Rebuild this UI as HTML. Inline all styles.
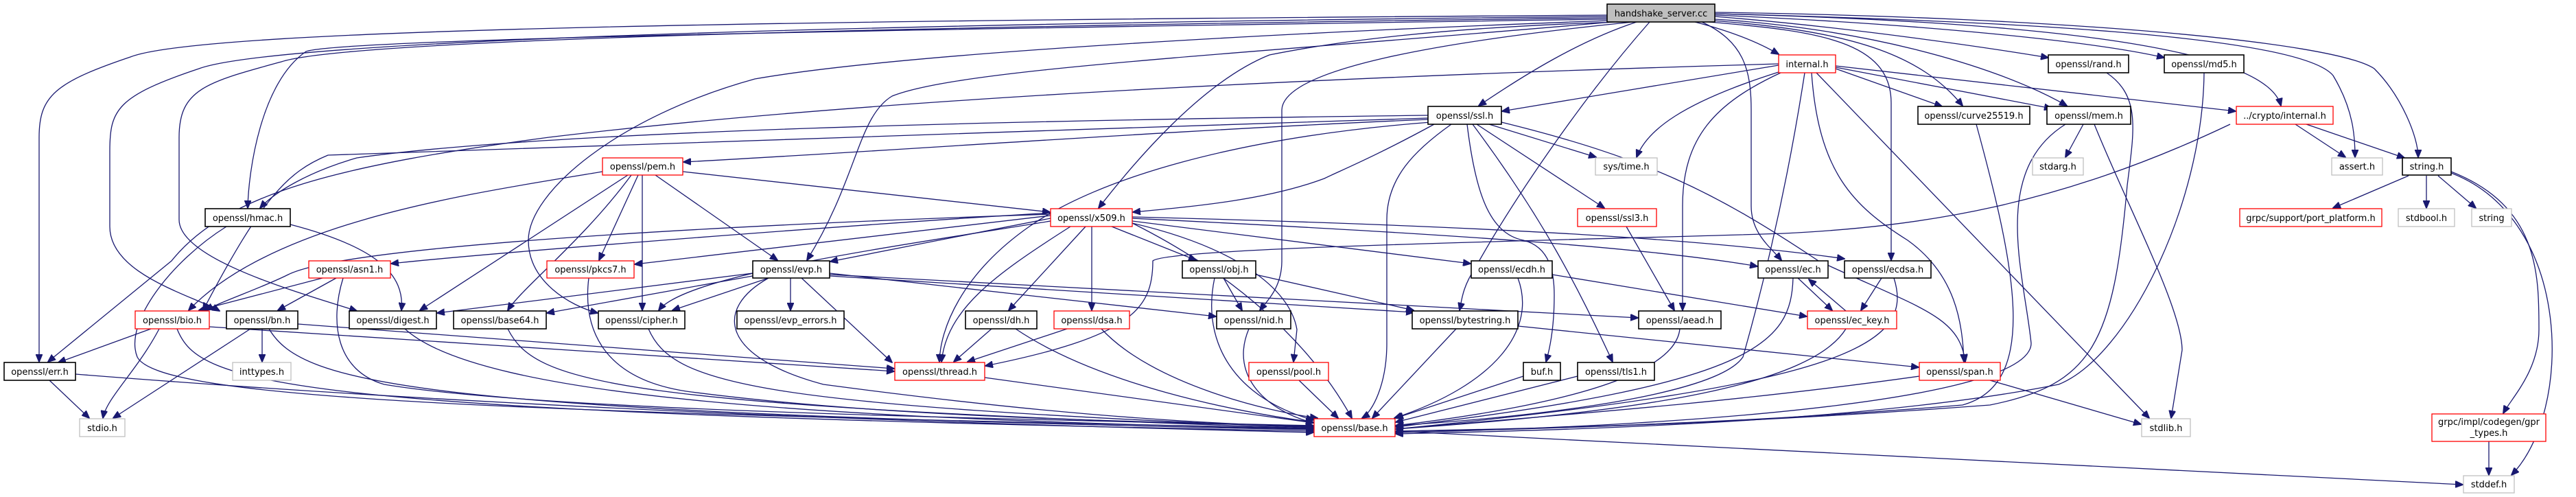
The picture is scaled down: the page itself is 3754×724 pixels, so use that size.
<!DOCTYPE html>
<html><head><meta charset="utf-8"><style>
html,body{margin:0;padding:0;background:#fff;}
svg{display:block;}
text{font-family:"DejaVu Sans","Liberation Sans",sans-serif;font-size:13px;fill:#000;}
.e{fill:none;stroke:#191970;stroke-width:1.3;marker-end:url(#a);}
.k{fill:#fff;stroke:#000;stroke-width:1.6;}
.r{fill:#fff;stroke:#ff0000;stroke-width:1.3;}
.g{fill:#fff;stroke:#bfbfbf;stroke-width:1.3;}
</style></head><body>
<svg width="3754" height="724" viewBox="0 0 3754 724" xmlns="http://www.w3.org/2000/svg">
<defs><marker id="a" markerWidth="12" markerHeight="10" refX="11" refY="5" orient="auto" markerUnits="userSpaceOnUse"><path d="M0,0 L12,5 L0,10 z" fill="#191970" stroke="#191970"/></marker></defs>
<g>
<!-- handshake edges -->
<path class="e" d="M2342,22 C1200,30 300,40 190,83 C80,120 57,140 57,200 L57,527"/>
<path class="e" d="M2342,24 C1200,35 400,60 290,100 C170,140 160,160 160,220 L160,330 C160,400 280,430 320,453"/>
<path class="e" d="M2342,26 C1200,40 500,60 410,90 C300,120 261,130 261,200 L261,320 C261,380 450,430 520,453"/>
<path class="e" d="M2342,28 C1500,40 500,55 446,75 C380,120 362,250 361,303"/>
<path class="e" d="M2345,30 C1800,50 1300,80 1100,115 C900,170 770,280 770,350 C770,410 830,445 871,456"/>
<path class="e" d="M2350,32 C1800,80 1400,100 1300,140 C1250,170 1250,260 1176,379"/>
<path class="e" d="M2360,32 C2100,40 1950,60 1850,80 C1750,120 1650,240 1601,303"/>
<path class="e" d="M2380,32 C2100,60 1870,100 1868,160 L1868,380 C1868,420 1845,440 1836,452"/>
<path class="e" d="M2385,32 C2300,60 2220,110 2155,154"/>
<path class="e" d="M2404,32 C2300,150 2200,300 2150,390 C2130,420 2130,440 2127,452"/>
<path class="e" d="M2470,32 C2520,45 2560,60 2592,79"/>
<path class="e" d="M2480,32 C2540,60 2552,100 2552,160 L2552,300 C2552,340 2580,360 2596,379"/>
<path class="e" d="M2490,32 C2650,45 2756,60 2756,150 L2756,379"/>
<path class="e" d="M2495,30 C2700,45 2800,80 2860,154"/>
<path class="e" d="M2499,28 C2700,40 2900,90 3012,154"/>
<path class="e" d="M2499,24 C2700,40 2900,70 2985,84"/>
<path class="e" d="M2499,22 C2800,35 3050,60 3154,84"/>
<path class="e" d="M2499,20 C2900,30 3300,60 3324,154"/>
<path class="e" d="M2499,20 C2900,30 3350,50 3400,110 C3430,160 3432,200 3432,229"/>
<path class="e" d="M2499,18 C3000,25 3400,60 3460,100 C3500,140 3524,200 3524,229"/>
<!-- ssl -->
<path class="e" d="M2081,168 C1500,175 800,190 520,230 C450,250 400,280 379,303"/>
<path class="e" d="M2081,172 C1500,190 700,220 478,226 C420,250 383,286 296,452"/>
<path class="e" d="M2081,174 C1700,190 1300,220 996,236"/>
<path class="e" d="M2090,181 C2000,230 1950,250 1930,260 C1850,290 1750,300 1651,309"/>
<path class="e" d="M2085,178 C1800,200 1600,260 1500,330 C1400,400 1370,480 1369,527"/>
<path class="e" d="M2115,181 C2060,220 2021,260 2021,320 L2021,500 C2021,560 2000,600 1985,609"/>
<path class="e" d="M2170,181 L2326,229"/>
<path class="e" d="M2152,181 L2338,303"/>
<path class="e" d="M2138,181 C2150,280 2170,340 2220,350 C2260,360 2265,400 2265,430 C2265,480 2258,510 2253,527"/>
<path class="e" d="M2146,181 C2250,320 2300,420 2350,527"/>
<path class="e" d="M2188,178 C2400,230 2500,280 2650,380 C2800,450 2855,460 2864,527"/>
<!-- pem -->
<path class="e" d="M995,250 L1530,309"/>
<path class="e" d="M878,250 C700,280 400,320 275,452"/>
<path class="e" d="M915,255 L612,452"/>
<path class="e" d="M920,255 C850,350 760,420 740,452"/>
<path class="e" d="M930,255 L873,379"/>
<path class="e" d="M936,255 L936,452"/>
<path class="e" d="M955,255 L1133,379"/>
<!-- hmac -->
<path class="e" d="M423,327 C550,360 590,400 585,452"/>
<path class="e" d="M330,330 C250,380 180,470 200,520 C230,580 700,600 1914,624"/>
<!-- asn1/pkcs7 -->
<path class="e" d="M470,405 L290,452"/>
<path class="e" d="M490,405 L405,452"/>
<path class="e" d="M500,405 C480,470 490,540 560,560 C800,600 1500,610 1914,621"/>
<path class="e" d="M858,405 C850,470 870,550 1000,570 C1300,610 1700,615 1914,620"/>
<!-- evp -->
<path class="e" d="M1097,398 L637,456"/>
<path class="e" d="M1097,402 L797,456"/>
<path class="e" d="M1120,405 L980,452"/>
<path class="e" d="M1152,405 L1152,452"/>
<path class="e" d="M1168,405 L1300,528"/>
<path class="e" d="M1209,398 L1772,461"/>
<path class="e" d="M1120,405 C1040,450 1050,520 1200,560 C1500,600 1700,615 1914,622"/>
<path class="e" d="M1209,400 L2387,463"/>
<path class="e" d="M1209,402 L2060,455"/>
<!-- x509 -->
<path class="e" d="M1531,310 C1200,330 700,370 570,384"/>
<path class="e" d="M1531,314 L925,385"/>
<path class="e" d="M1531,318 L1210,381"/>
<path class="e" d="M1531,312 C1000,330 500,360 420,400 C380,420 320,440 300,452"/>
<path class="e" d="M1531,322 C1300,360 1000,400 960,452"/>
<path class="e" d="M1560,330 C1450,400 1380,450 1372,527"/>
<path class="e" d="M1582,330 L1470,452"/>
<path class="e" d="M1591,330 L1591,452"/>
<path class="e" d="M1620,330 L1743,379"/>
<path class="e" d="M1650,325 C1800,360 1880,420 1890,480 L1885,527"/>
<path class="e" d="M1650,325 C1800,400 1910,500 1970,609"/>
<path class="e" d="M1650,322 L2143,384"/>
<path class="e" d="M1650,318 C2100,340 2400,360 2561,388"/>
<path class="e" d="M1650,316 C2200,330 2500,350 2688,377"/>
<!-- lower -->
<path class="e" d="M1783,405 L1810,452"/>
<path class="e" d="M1830,400 L2060,452"/>
<path class="e" d="M1770,405 C1750,500 1800,580 1914,612"/>
<path class="e" d="M2262,400 L2633,461"/>
<path class="e" d="M2212,405 C2240,480 2180,560 2032,609"/>
<path class="e" d="M1445,479 L1390,527"/>
<path class="e" d="M1480,479 C1600,560 1800,600 1914,615"/>
<path class="e" d="M1555,479 L1410,527"/>
<path class="e" d="M1605,479 C1680,560 1850,600 1920,609"/>
<path class="e" d="M1820,479 C1790,550 1850,600 1914,616"/>
<path class="e" d="M2122,479 L2000,609"/>
<path class="e" d="M2212,475 L2796,535"/>
<path class="e" d="M1435,550 L1914,616"/>
<path class="e" d="M1893,554 L1950,609"/>
<path class="e" d="M2220,548 L2034,609"/>
<path class="e" d="M2299,548 L2034,615"/>
<path class="e" d="M2448,479 C2440,560 2200,600 2034,620"/>
<path class="e" d="M2370,330 L2440,452"/>
<path class="e" d="M2620,405 L2670,452"/>
<path class="e" d="M2690,453 L2636,407"/>
<path class="e" d="M2613,405 C2610,500 2560,560 2034,622"/>
<path class="e" d="M2742,405 L2712,452"/>
<path class="e" d="M2760,405 C2790,500 2700,560 2034,625"/>
<path class="e" d="M2690,479 C2640,560 2400,600 2034,625"/>
<path class="e" d="M2797,548 C2500,590 2200,610 2034,625"/>
<path class="e" d="M2900,554 L3120,618"/>
<path class="e" d="M2880,181 C2940,400 2970,560 2860,590 C2500,620 2200,625 2034,628"/>
<path class="e" d="M3036,181 L3010,229"/>
<path class="e" d="M3052,181 C3100,300 3180,450 3180,510 L3164,609"/>
<path class="e" d="M3010,181 C2900,250 2950,400 2960,500 C2960,580 2500,620 2034,630"/>
<path class="e" d="M3070,106 C3120,140 3110,190 3100,270 C3080,500 3050,560 2900,590 C2500,620 2200,625 2034,630"/>
<path class="e" d="M3212,106 C3210,300 3100,520 3000,560 C2700,620 2200,628 2034,632"/>
<!-- internal -->
<path class="e" d="M2592,95 L2189,162"/>
<path class="e" d="M2675,100 L2830,155"/>
<path class="e" d="M2675,98 L2990,158"/>
<path class="e" d="M2675,96 L3258,162"/>
<path class="e" d="M2592,105 C2450,150 2400,190 2385,229"/>
<path class="e" d="M2595,106 C2500,150 2452,200 2452,300 L2452,452"/>
<path class="e" d="M2630,106 C2600,300 2560,450 2540,520 C2500,580 2200,610 2034,620"/>
<path class="e" d="M2640,106 C2650,250 2700,300 2780,350 C2850,400 2860,470 2862,527"/>
<path class="e" d="M2647,106 L3132,609"/>
<path class="e" d="M2592,93 C2000,110 1300,140 800,200 C500,240 330,280 250,380 L70,527"/>
<!-- crypto internal / string -->
<path class="e" d="M3250,181 C3000,300 2800,330 2600,340 C2300,350 1700,360 1680,380 C1680,450 1650,490 1436,533"/>
<path class="e" d="M3345,181 L3418,229"/>
<path class="e" d="M3361,181 L3504,230"/>
<path class="e" d="M3510,256 L3400,303"/>
<path class="e" d="M3536,256 L3536,303"/>
<path class="e" d="M3553,256 L3608,303"/>
<path class="e" d="M3572,250 C3700,300 3700,400 3700,480 C3700,540 3660,580 3648,602"/>
<path class="e" d="M3572,252 C3750,320 3750,600 3660,692"/>
<path class="e" d="M3627,643 L3627,692"/>
<path class="e" d="M2033,628 L3589,706"/>
<!-- bio/bn/err etc -->
<path class="e" d="M220,479 L85,528"/>
<path class="e" d="M232,479 C200,540 155,580 150,609"/>
<path class="e" d="M258,479 C290,560 400,600 1914,628"/>
<path class="e" d="M305,476 C700,500 1000,520 1303,541"/>
<path class="e" d="M365,479 L165,609"/>
<path class="e" d="M382,479 L382,527"/>
<path class="e" d="M392,479 C440,560 600,600 1914,626"/>
<path class="e" d="M434,472 L1303,537"/>
<path class="e" d="M72,554 L130,609"/>
<path class="e" d="M110,545 C800,600 1500,620 1914,630"/>
<path class="e" d="M590,479 C700,580 1200,610 1914,625"/>
<path class="e" d="M740,479 C780,560 900,590 1914,624"/>
<path class="e" d="M945,479 C980,560 1100,590 1914,623"/>
</g>
<g>
<rect x="2342" y="6" width="157" height="26" fill="#bfbfbf" stroke="#000" stroke-width="1.6"/>
<text x="2420.5" y="24" text-anchor="middle">handshake_server.cc</text>
</g>
<g id="nodes"></g>
<g>
<rect class="r" x="2592" y="80" width="83" height="26"/><text x="2633.5" y="98" text-anchor="middle">internal.h</text>
<rect class="k" x="2985" y="80" width="117" height="26"/><text x="3043.5" y="98" text-anchor="middle">openssl/rand.h</text>
<rect class="k" x="3154" y="80" width="116" height="26"/><text x="3212" y="98" text-anchor="middle">openssl/md5.h</text>
<rect class="k" x="2081" y="155" width="107" height="26"/><text x="2134.5" y="173" text-anchor="middle">openssl/ssl.h</text>
<rect class="k" x="2795" y="155" width="163" height="26"/><text x="2876.5" y="173" text-anchor="middle">openssl/curve25519.h</text>
<rect class="k" x="2983" y="155" width="122" height="26"/><text x="3044" y="173" text-anchor="middle">openssl/mem.h</text>
<rect class="r" x="3259" y="155" width="141" height="26"/><text x="3329.5" y="173" text-anchor="middle">../crypto/internal.h</text>
<rect class="r" x="878" y="230" width="117" height="25"/><text x="936.5" y="247" text-anchor="middle">openssl/pem.h</text>
<rect class="g" x="2325" y="230" width="90" height="25"/><text x="2370" y="247" text-anchor="middle">sys/time.h</text>
<rect class="g" x="2962" y="230" width="74" height="25"/><text x="2999" y="247" text-anchor="middle">stdarg.h</text>
<rect class="g" x="3398" y="230" width="74" height="25"/><text x="3435" y="247" text-anchor="middle">assert.h</text>
<rect class="k" x="3501" y="230" width="71" height="25"/><text x="3536.5" y="247" text-anchor="middle">string.h</text>
<rect class="k" x="299" y="304" width="124" height="26"/><text x="361" y="322" text-anchor="middle">openssl/hmac.h</text>
<rect class="r" x="1531" y="304" width="119" height="26"/><text x="1590.5" y="322" text-anchor="middle">openssl/x509.h</text>
<rect class="r" x="2299" y="304" width="115" height="26"/><text x="2356.5" y="322" text-anchor="middle">openssl/ssl3.h</text>
<rect class="r" x="3264" y="304" width="207" height="26"/><text x="3367.5" y="322" text-anchor="middle">grpc/support/port_platform.h</text>
<rect class="g" x="3495" y="304" width="82" height="26"/><text x="3536" y="322" text-anchor="middle">stdbool.h</text>
<rect class="g" x="3602" y="304" width="58" height="26"/><text x="3631" y="322" text-anchor="middle">string</text>
<rect class="r" x="450" y="380" width="119" height="25"/><text x="509.5" y="397" text-anchor="middle">openssl/asn1.h</text>
<rect class="r" x="797" y="380" width="127" height="25"/><text x="860.5" y="397" text-anchor="middle">openssl/pkcs7.h</text>
<rect class="k" x="1097" y="380" width="112" height="25"/><text x="1153" y="397" text-anchor="middle">openssl/evp.h</text>
<rect class="k" x="1723" y="380" width="107" height="25"/><text x="1776.5" y="397" text-anchor="middle">openssl/obj.h</text>
<rect class="k" x="2144" y="380" width="118" height="25"/><text x="2203" y="397" text-anchor="middle">openssl/ecdh.h</text>
<rect class="k" x="2562" y="380" width="102" height="25"/><text x="2613" y="397" text-anchor="middle">openssl/ec.h</text>
<rect class="k" x="2688" y="380" width="126" height="25"/><text x="2751" y="397" text-anchor="middle">openssl/ecdsa.h</text>
<rect class="r" x="197" y="453" width="108" height="26"/><text x="251" y="471" text-anchor="middle">openssl/bio.h</text>
<rect class="k" x="330" y="453" width="104" height="26"/><text x="382" y="471" text-anchor="middle">openssl/bn.h</text>
<rect class="k" x="509" y="453" width="127" height="26"/><text x="572.5" y="471" text-anchor="middle">openssl/digest.h</text>
<rect class="k" x="661" y="453" width="135" height="26"/><text x="728.5" y="471" text-anchor="middle">openssl/base64.h</text>
<rect class="k" x="872" y="453" width="126" height="26"/><text x="935" y="471" text-anchor="middle">openssl/cipher.h</text>
<rect class="k" x="1074" y="453" width="156" height="26"/><text x="1152" y="471" text-anchor="middle">openssl/evp_errors.h</text>
<rect class="k" x="1407" y="453" width="104" height="26"/><text x="1459" y="471" text-anchor="middle">openssl/dh.h</text>
<rect class="r" x="1536" y="453" width="110" height="26"/><text x="1591" y="471" text-anchor="middle">openssl/dsa.h</text>
<rect class="k" x="1773" y="453" width="108" height="26"/><text x="1827" y="471" text-anchor="middle">openssl/nid.h</text>
<rect class="k" x="2058" y="453" width="154" height="26"/><text x="2135" y="471" text-anchor="middle">openssl/bytestring.h</text>
<rect class="k" x="2388" y="453" width="120" height="26"/><text x="2448" y="471" text-anchor="middle">openssl/aead.h</text>
<rect class="r" x="2634" y="453" width="130" height="26"/><text x="2699" y="471" text-anchor="middle">openssl/ec_key.h</text>
<rect class="k" x="6" y="528" width="104" height="26"/><text x="58" y="546" text-anchor="middle">openssl/err.h</text>
<rect class="g" x="339" y="528" width="85" height="26"/><text x="381.5" y="546" text-anchor="middle">inttypes.h</text>
<rect class="r" x="1304" y="528" width="131" height="26"/><text x="1369.5" y="546" text-anchor="middle">openssl/thread.h</text>
<rect class="r" x="1820" y="528" width="116" height="26"/><text x="1878" y="546" text-anchor="middle">openssl/pool.h</text>
<rect class="k" x="2220" y="528" width="54" height="26"/><text x="2247" y="546" text-anchor="middle">buf.h</text>
<rect class="k" x="2299" y="528" width="112" height="26"/><text x="2355" y="546" text-anchor="middle">openssl/tls1.h</text>
<rect class="r" x="2797" y="528" width="118" height="26"/><text x="2856" y="546" text-anchor="middle">openssl/span.h</text>
<rect class="g" x="116" y="610" width="66" height="26"/><text x="149" y="628" text-anchor="middle">stdio.h</text>
<rect class="r" x="1915" y="610" width="118" height="26"/><text x="1974" y="628" text-anchor="middle">openssl/base.h</text>
<rect class="g" x="3121" y="610" width="71" height="26"/><text x="3156.5" y="628" text-anchor="middle">stdlib.h</text>
<rect class="r" x="3544" y="603" width="166" height="40"/><text x="3627" y="619" text-anchor="middle">grpc/impl/codegen/gpr</text><text x="3627" y="635" text-anchor="middle">_types.h</text>
<rect class="g" x="3590" y="693" width="74" height="25"/><text x="3627" y="710" text-anchor="middle">stddef.h</text>
</g>
</svg>
</body></html>
